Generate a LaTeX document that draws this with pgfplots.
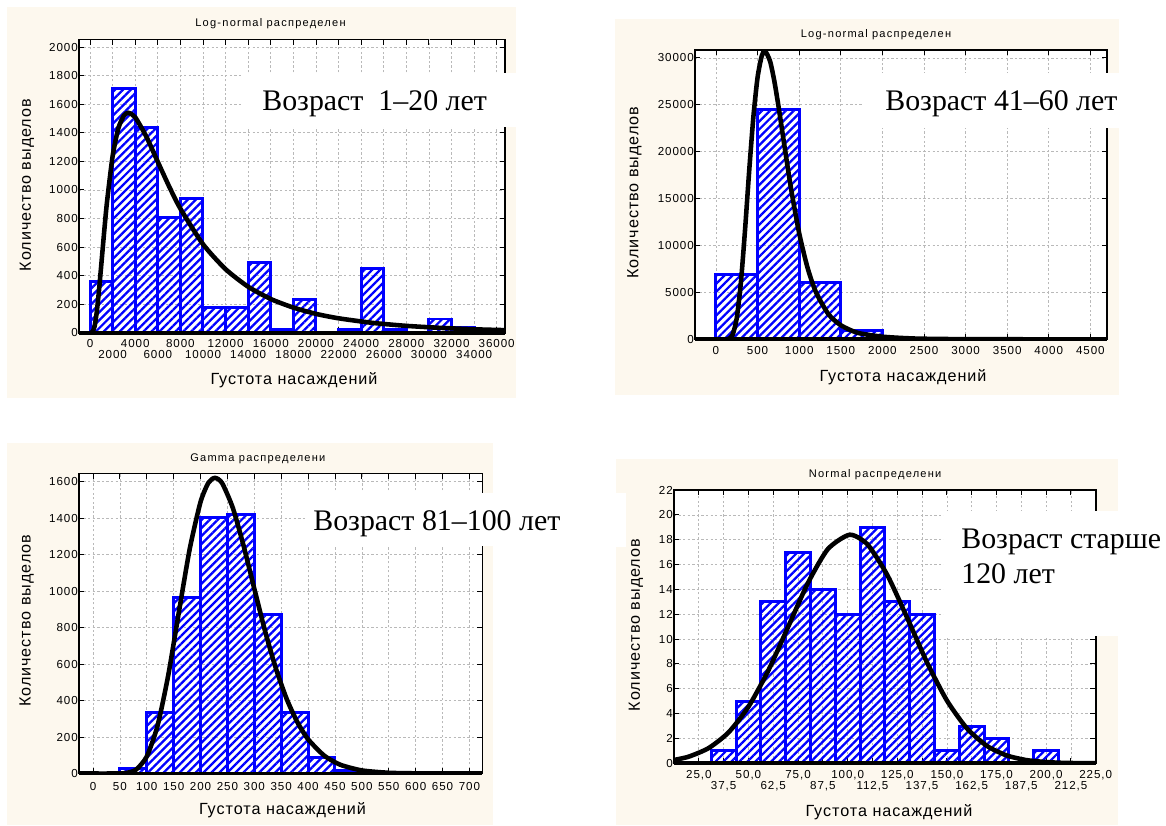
\documentclass[border=0pt]{standalone}
\usepackage{fontspec}
\setmainfont{Liberation Sans}
\newfontfamily\serifru{Liberation Serif}
\newfontfamily\tickfont[LetterSpace=8]{Liberation Sans}
\newfontfamily\labfont[LetterSpace=6]{Liberation Sans}
\newfontfamily\titfont[LetterSpace=11]{Liberation Sans}
\usepackage{pgfplots}
\pgfplotsset{compat=1.18}
\usetikzlibrary{patterns.meta}
\definecolor{cream}{HTML}{FDF8EE}

\pgfplotsset{
  hist/.style={scale only axis, anchor=south west, ymin=0,
    grid=major, grid style={gray!55, dash pattern=on 1.3pt off 1.3pt, line width=0.4pt},
    axis line style={line width=0.9pt}, axis background/.style={fill=white},
    tick align=inside, major tick length=3pt, tick style={black, line width=0.5pt},
    tick label style={font=\fontsize{6.6}{7}\tickfont},
    /pgf/number format/assume math mode=true, /pgf/number format/1000 sep={},
    scaled ticks=false,
    xticklabel style={anchor=north, inner sep=0pt, yshift=-0.13cm},
    yticklabel style={anchor=east, inner sep=0.5pt}},
  bars/.style={ybar interval, draw=blue, line width=1.7pt,
    pattern={Lines[angle=45,distance=3.2pt,line width=1.3pt]}, pattern color=blue},
  fit/.style={black, line width=2.6pt, smooth, tension=0.4},
}
\newcommand{\agetext}[1]{{\fontsize{17}{20}\selectfont\serifru #1}}

\begin{document}
\begin{tikzpicture}
\useasboundingbox (0,0) rectangle (23.32,-16.5);
\clip (0,0) rectangle (23.32,-16.5);
\fill[white] (0,0) rectangle (23.32,-16.5);
% panel backgrounds
\fill[cream] (0.134,-0.146) rectangle (10.32,-7.96);
\fill[cream] (12.30,-0.38) rectangle (22.38,-7.894);
\fill[cream] (0.146,-8.854) rectangle (9.86,-16.5);
\fill[cream] (12.32,-9.18) rectangle (22.36,-16.5);
\fill[white] (12.32,-9.86) rectangle (12.52,-10.94);

% ---- 1-20
\begin{axis}[hist, name=p1, at={(1.58cm,-6.654cm)}, width=8.52cm, height=5.868cm,
  xmin=-975, xmax=36735, ymax=2055,
  xtick={0,4000,...,36000}, ytick={0,200,...,2000},
  extra x ticks={2000,6000,...,34000},
  extra x tick style={grid=major, xticklabel style={yshift=-0.22cm}}]
\addplot[bars] coordinates {(0,360) (2000,1710) (4000,1440) (6000,805) (8000,940)
  (10000,175) (12000,175) (14000,495) (16000,20) (18000,236) (20000,0) (22000,22)
  (24000,453) (26000,24) (28000,0) (30000,96) (32000,38) (34000,0)};
\addplot[fit] coordinates {(0,0) (200,3) (400,43) (600,147) (800,300) (1000,478)
  (1250,704) (1500,913) (2000,1236) (2500,1430) (3000,1521) (3400,1540) (4000,1509)
  (5000,1371) (6000,1197) (7000,1025) (8000,869) (10000,620) (12000,445) (14000,322)
  (16000,236) (18000,176) (20000,132) (22000,101) (25000,69) (28000,48) (31000,34)
  (34000,24) (36735,18)};
\end{axis}
\draw[line width=2.2pt] (p1.south west) -- (p1.south east);

% ---- 41-60
\begin{axis}[hist, name=p2, at={(13.9cm,-6.786cm)}, width=8.24cm, height=5.786cm,
  xmin=-252, xmax=4700, ymax=30840,
  xtick={0,500,...,4500}, ytick={0,5000,...,30000}]
\addplot[bars] coordinates {(0,6900) (500,24550) (1000,6100) (1500,900) (2000,0)};
\addplot[fit] coordinates {(0,0) (100,0) (150,40) (200,486) (250,2260) (300,6100)
  (350,11734) (400,18049) (450,23744) (500,27919) (550,30197) (589,30750) (650,29648)
  (700,27600) (750,24925) (800,21978) (900,16182) (1000,11316) (1100,7651) (1200,5059)
  (1350,2700) (1500,1500) (1700,700) (2000,280) (2400,80) (3000,15) (4000,0) (4700,0)};
\end{axis}
\draw[line width=2.2pt] (p2.south west) -- (p2.south east);

% ---- 81-100
\begin{axis}[hist, name=p3, at={(1.58cm,-15.47cm)}, width=8.066cm, height=6.004cm,
  xmin=-26, xmax=724, ymax=1645,
  xtick={0,50,...,700}, ytick={0,200,...,1600},
  xticklabel style={yshift=-0.04cm}]
\addplot[bars] coordinates {(50,25) (100,335) (150,965) (200,1405) (250,1418)
  (300,872) (350,335) (400,90) (450,15) (500,0)};
\addplot[fit] coordinates {(-26,0) (40,0) (60,2) (80,21) (100,93) (120,261) (140,539)
  (160,889) (180,1232) (200,1488) (215,1595) (227,1620) (240,1592) (260,1456)
  (280,1249) (300,1013) (320,781) (340,577) (360,410) (380,282) (400,188) (430,98)
  (460,48) (500,17) (550,4) (600,1) (650,0) (724,0)};
\end{axis}
\draw[line width=2.2pt] (p3.south west) -- (p3.south east);

% ---- >120
\begin{axis}[hist, name=p4, at={(13.48cm,-15.266cm)}, width=8.434cm, height=5.466cm,
  xmin=12.5, xmax=225, ymax=22,
  xtick={25,50,...,225}, ytick={0,2,...,22},
  extra x ticks={37.5,62.5,87.5,112.5,137.5,162.5,187.5,212.5},
  extra x tick style={grid=major, xticklabel style={yshift=-0.22cm}},
  xticklabel style={/pgf/number format/fixed, /pgf/number format/fixed zerofill,
    /pgf/number format/precision=1, /pgf/number format/use comma}]
\addplot[bars] coordinates {(31.25,1) (43.75,5) (56.25,13) (68.75,17) (81.25,14)
  (93.75,12) (106.25,19) (118.75,13) (131.25,12) (143.75,1) (156.25,3) (168.75,2)
  (181.25,0) (193.75,1) (206.25,0)};
\addplot[fit] coordinates {(12.5,0.27) (20,0.54) (30,1.23) (40,2.49) (50,4.55)
  (60,7.46) (70,10.98) (80,14.52) (90,17.24) (101,18.4) (110,17.62) (120,15.15)
  (130,11.71) (140,8.12) (150,5.06) (160,2.83) (170,1.42) (180,0.64) (190,0.26)
  (200,0.1) (210,0.03) (225,0.01)};
\end{axis}
\draw[line width=2.2pt] (p4.south west) -- (p4.south east);

% titles
\begin{scope}[every node/.style={inner sep=0pt, font=\fontsize{6.3}{7}\titfont}]
\node[anchor=west] at (3.9,-0.48) {Log-normal распределен};
\node[anchor=west] at (16.01,-0.70) {Log-normal распределен};
\node[anchor=west] at (3.8,-9.166) {Gamma распределени};
\node[anchor=west] at (16.17,-9.5) {Normal распределени};
\end{scope}
% axis labels
\begin{scope}[every node/.style={inner sep=0pt, font=\fontsize{9.2}{11}\labfont}]
\node at (5.88,-7.6) {Густота насаждений};
\node[rotate=90] at (0.54,-3.7) {Количество выделов};
\node at (18.06,-7.534) {Густота насаждений};
\node[rotate=90] at (12.686,-3.85) {Количество выделов};
\node at (5.65,-16.2) {Густота насаждений};
\node[rotate=90] at (0.534,-12.416) {Количество выделов};
\node at (17.78,-16.234) {Густота насаждений};
\node[rotate=90] at (12.72,-12.5) {Количество выделов};
\end{scope}
% age boxes
\fill[white] (4.834,-1.454) rectangle (10.32,-2.534);
\fill[white] (17.26,-1.46) rectangle (22.4,-2.56);
\fill[white] (6.134,-9.86) rectangle (11.44,-10.92);
\fill[white] (18.88,-10.22) rectangle (23.32,-12.72);
\begin{scope}[every node/.style={inner sep=0pt, anchor=base west}]
\node at (5.24,-2.2) {\agetext{Возраст\ \ 1–20 лет}};
\node at (17.7,-2.2) {\agetext{Возраст 41–60 лет}};
\node at (6.26,-10.61) {\agetext{Возраст 81–100 лет}};
\node at (19.22,-10.96) {\agetext{Возраст старше}};
\node at (19.22,-11.66) {\agetext{120 лет}};
\end{scope}
\end{tikzpicture}
\end{document}
